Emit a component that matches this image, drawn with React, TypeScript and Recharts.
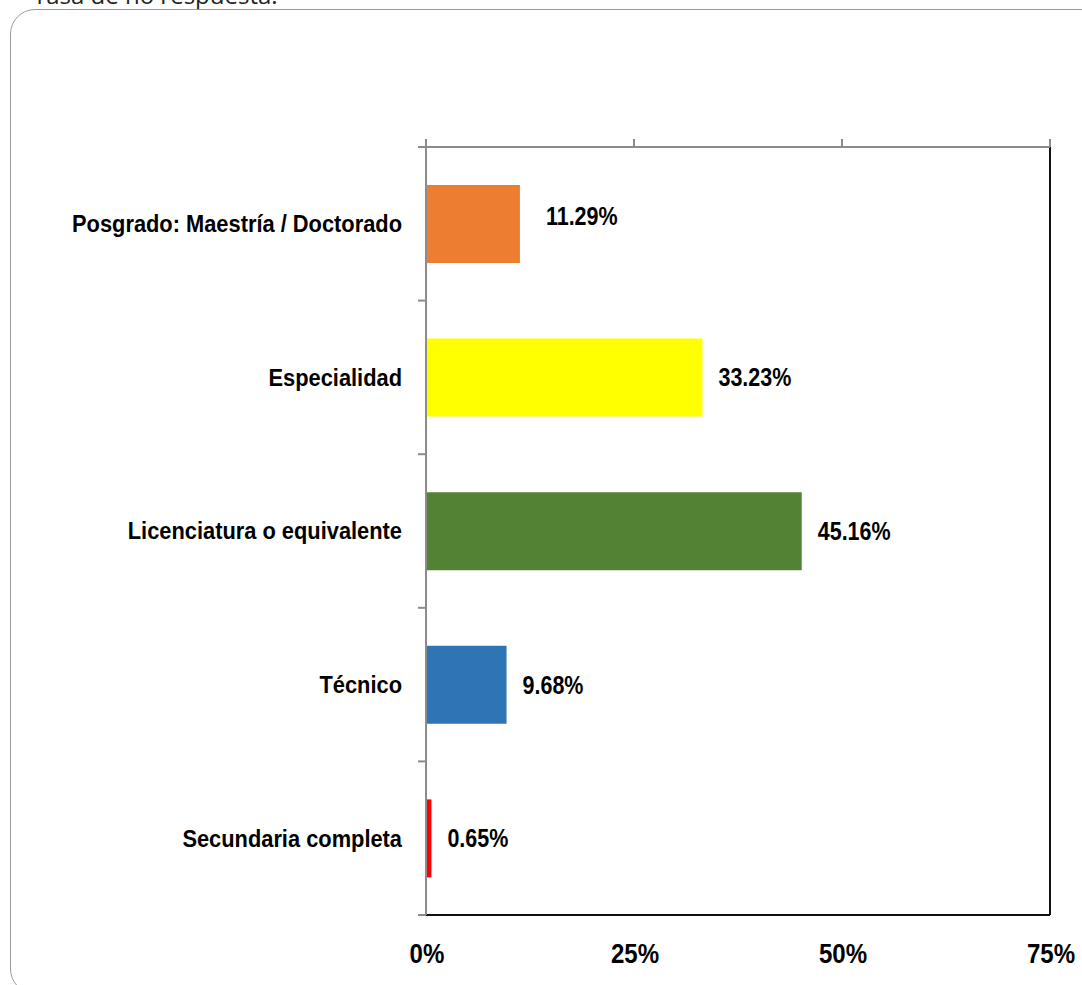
import React from 'react';
import { BarChart, Bar, XAxis, YAxis, Cell, LabelList, ReferenceLine } from 'recharts';

const categories = [
  'Posgrado: Maestría / Doctorado',
  'Especialidad',
  'Licenciatura o equivalente',
  'Técnico',
  'Secundaria completa',
];
const values = [11.29, 33.23, 45.16, 9.68, 0.65];
const barColors = ['#ED7D31', '#FFFF00', '#548235', '#2E75B6', '#FF0000'];
const xTicks = [0, 25, 50, 75];
const xTickLabels = ['0%', '25%', '50%', '75%'];
const titleText = 'Tasa de no respuesta.';

const data = categories.map((name, i) => ({ name, value: values[i] }));

const FONT = "'Liberation Sans', Arial, sans-serif";
const AXIS_GRAY = '#8c8c8c';

const NarrowText = (p: any) => (
  <text
    transform={`translate(${p.x} ${p.y}) scale(${p.sx} 1)`}
    x={0}
    y={0}
    dy={p.dy || 0}
    textAnchor={p.anchor}
    fontFamily={FONT}
    fontWeight="bold"
    fontSize={p.size}
    fill="#000"
  >
    {p.children}
  </text>
);

const EmptyTick = () => <g />;

const CategoryTick = (props: any) => {
  const { x, y, payload, index } = props;
  const half = payload && typeof payload.offset === 'number' && payload.offset > 0 ? payload.offset : 76.8;
  return (
    <g>
      <line x1={x - 8} x2={x} y1={y - half} y2={y - half} stroke={AXIS_GRAY} strokeWidth={2} />
      {index === categories.length - 1 && (
        <line x1={x - 8} x2={x} y1={y + half} y2={y + half} stroke={AXIS_GRAY} strokeWidth={2} />
      )}
      <NarrowText x={x - 24} y={y} dy="0.35em" anchor="end" size={24} sx={0.91}>
        {payload.value}
      </NarrowText>
    </g>
  );
};

const BottomTick = (props: any) => {
  const { x, y, index } = props;
  return (
    <NarrowText x={x + 1} y={y + 48} anchor="middle" size={28} sx={0.86}>
      {xTickLabels[index]}
    </NarrowText>
  );
};

const ValueLabel = (props: any) => {
  const { x, y, width, height, value, index } = props;
  const extraX = index === 0 ? 10 : 0;
  const extraY = index === 0 ? -8 : 0;
  return (
    <NarrowText
      x={x + width + 16 + extraX}
      y={y + height / 2 + extraY}
      dy="0.35em"
      anchor="start"
      size={25}
      sx={0.86}
    >
      {`${Number(value).toFixed(2)}%`}
    </NarrowText>
  );
};

export default function App() {
  return (
    <div
      style={{
        position: 'fixed',
        left: 0,
        top: 0,
        width: 1082,
        height: 985,
        overflow: 'hidden',
        background: '#fff',
      }}
    >
      <div
        style={{
          position: 'absolute',
          left: 33,
          top: -21,
          fontFamily: "'Open Sans', sans-serif",
          fontSize: 24,
          lineHeight: '32px',
          color: '#222',
          whiteSpace: 'nowrap',
        }}
      >
        {titleText}
      </div>
      <div
        style={{
          position: 'absolute',
          left: 10,
          top: 9,
          width: 1094,
          height: 983,
          border: '1.5px solid #9a9a9a',
          borderRadius: 25,
        }}
      />
      <div style={{ position: 'absolute', left: 0, top: 0 }}>
        <BarChart
          width={1082}
          height={985}
          data={data}
          layout="vertical"
          margin={{ top: 137, right: 32, bottom: 10, left: 0 }}
        >
          <XAxis
            xAxisId="top"
            orientation="top"
            type="number"
            domain={[0, 75]}
            ticks={xTicks}
            height={10}
            axisLine={{ stroke: AXIS_GRAY, strokeWidth: 2 }}
            tickLine={{ stroke: AXIS_GRAY, strokeWidth: 2 }}
            tickSize={8}
            tick={EmptyTick}
            allowDataOverflow
          />
          <XAxis
            xAxisId="bottom"
            orientation="bottom"
            type="number"
            domain={[0, 75]}
            ticks={xTicks}
            height={60}
            axisLine={{ stroke: '#111', strokeWidth: 2 }}
            tickLine={false}
            tickSize={0}
            tickMargin={0}
            tick={BottomTick}
            allowDataOverflow
          />
          <YAxis
            yAxisId="cat"
            type="category"
            dataKey="name"
            width={426}
            axisLine={{ stroke: AXIS_GRAY, strokeWidth: 2 }}
            tickLine={false}
            tickSize={0}
            tickMargin={0}
            tick={CategoryTick}
            interval={0}
          />
          <ReferenceLine x={75} xAxisId="bottom" yAxisId="cat" stroke="#111" strokeWidth={2} />
          <Bar dataKey="value" xAxisId="bottom" yAxisId="cat" barSize={78} isAnimationActive={false}>
            {data.map((d, i) => (
              <Cell key={d.name} fill={barColors[i]} />
            ))}
            <LabelList dataKey="value" content={ValueLabel} />
          </Bar>
        </BarChart>
      </div>
    </div>
  );
}
